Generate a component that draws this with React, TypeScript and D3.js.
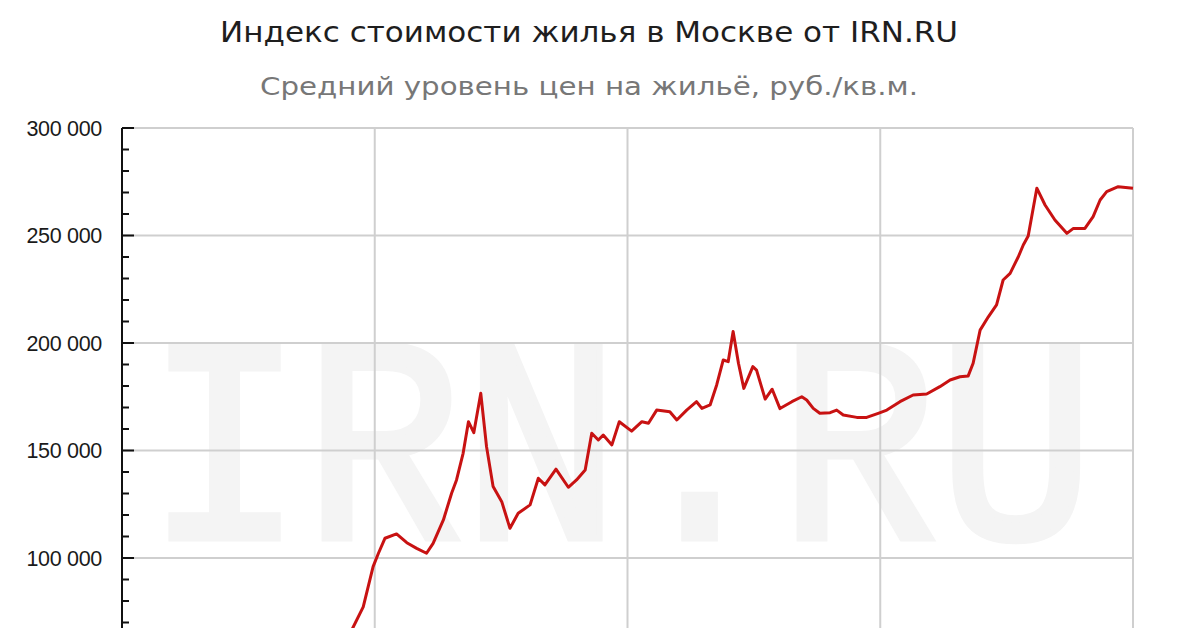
import React from "react";
import * as d3 from "d3";

const TITLE = "Индекс стоимости жилья в Москве от IRN.RU";
const SUBTITLE = "Средний уровень цен на жильё, руб./кв.м.";
const WATERMARK = "IRN.RU";

const years = [
  2005.06, 2005.63, 2005.87, 2006.11, 2006.24, 2006.4, 2006.68, 2006.93, 2007.17, 2007.41,
  2007.57, 2007.82, 2008.02, 2008.14, 2008.3, 2008.43, 2008.56, 2008.73, 2008.87, 2009.03,
  2009.24, 2009.44, 2009.64, 2009.93, 2010.13, 2010.29, 2010.56, 2010.86, 2011.06, 2011.27,
  2011.43, 2011.59, 2011.71, 2011.92, 2012.1, 2012.4, 2012.65, 2012.81, 2013.01, 2013.33,
  2013.5, 2013.74, 2013.98, 2014.11, 2014.31, 2014.47, 2014.63, 2014.75, 2014.87, 2015.0,
  2015.13, 2015.35, 2015.44, 2015.65, 2015.82, 2016.01, 2016.3, 2016.54, 2016.66, 2016.82,
  2016.98, 2017.23, 2017.39, 2017.55, 2017.88, 2018.12, 2018.4, 2018.61, 2018.93, 2019.25,
  2019.58, 2019.9, 2020.15, 2020.39, 2020.59, 2020.71, 2020.88, 2021.08, 2021.28, 2021.44,
  2021.61, 2021.81, 2021.93, 2022.05, 2022.26, 2022.46, 2022.7, 2022.99, 2023.15, 2023.43,
  2023.63, 2023.8, 2023.96, 2024.24, 2024.6,
];

const prices = [
  47000, 68000, 77300, 96000, 102200, 109200, 111200, 107100, 104500, 102200,
  106800, 117700, 130100, 136300, 148700, 163400, 158300, 176600, 151800, 133200,
  126200, 113800, 120800, 124700, 137100, 134000, 141300, 132900, 136300, 140900,
  158000, 154900, 157200, 152600, 163400, 159000, 163400, 162700, 168800, 168000,
  164200, 168800, 172700, 169600, 171200, 180500, 192100, 191300, 205300, 190600,
  178900, 189000, 187400, 173900, 178500, 169500, 172700, 175000, 173500, 169600,
  167300, 167600, 168800, 166500, 165400, 165400, 167300, 168800, 172700, 175800,
  176300, 179700, 182800, 184300, 184700, 190600, 206000, 212200, 217700, 229300,
  232400, 240100, 245600, 249800, 272000, 264200, 257200, 251000, 253300, 253300,
  258800, 266500, 270400, 272700, 272000,
];

const yTicks = [0, 50000, 100000, 150000, 200000, 250000, 300000];
const yMinorStep = 10000;
const xDomain = [2000, 2024.6];

export default function App() {
  const W = 1200;
  const H = 628;
  const left = 122;
  const right = 1133;
  const top = 128;
  const bottom = 773;

  const x = d3.scaleLinear().domain(xDomain).range([left, right]);
  const y = d3.scaleLinear().domain([0, 300000]).range([bottom, top]);

  const span = xDomain[1] - xDomain[0];
  const xGrid = d3.range(1, 5).map((i) => xDomain[0] + (i * span) / 4);
  const minor = d3.range(0, 300001, yMinorStep);

  const pts = years.map((yr, i) => [yr, prices[i]] as [number, number]);
  const line = d3
    .line<[number, number]>()
    .x((d) => x(d[0]))
    .y((d) => y(d[1]))
    .curve(d3.curveLinear);

  const fmt = (v: number) => d3.format(",")(v).replace(/,/g, " ");

  return (
    <div style={{ position: "absolute", left: 0, top: 0 }}>
      <svg width={W} height={H} style={{ display: "block", background: "#fff" }}>
        <text
          x={(left + right) / 2 - 7}
          y={538}
          fontFamily="'Liberation Mono', 'DejaVu Sans Mono', monospace"
          fontSize={292}
          textLength={950}
          lengthAdjust="spacingAndGlyphs"
          textAnchor="middle"
          fill="#f4f4f4"
          stroke="#f4f4f4"
          strokeWidth={7}
        >
          {WATERMARK}
        </text>

        {yTicks
          .filter((t) => t > 0)
          .map((t) => (
            <line key={"gy" + t} x1={left} x2={right} y1={y(t)} y2={y(t)} stroke="#cfcfcf" strokeWidth={2} />
          ))}
        {xGrid.map((g) => (
          <line key={"gx" + g} x1={x(g)} x2={x(g)} y1={top} y2={bottom} stroke="#cfcfcf" strokeWidth={2} />
        ))}

        <path d={line(pts) || ""} fill="none" stroke="#c81212" strokeWidth={3} strokeLinejoin="round" />

        <line x1={left} x2={left} y1={top} y2={bottom} stroke="#111" strokeWidth={2} />
        {minor.map((t) => {
          const major = t % 50000 === 0;
          return (
            <line
              key={"mt" + t}
              x1={left}
              x2={left + (major ? 12 : 7)}
              y1={y(t)}
              y2={y(t)}
              stroke="#111"
              strokeWidth={2}
            />
          );
        })}
        {yTicks
          .filter((t) => y(t) < H - 12)
          .map((t) => (
            <text
              key={"yl" + t}
              x={102}
              y={y(t)}
              dy="0.36em"
              textAnchor="end"
              fontFamily="'Liberation Sans', Arial, sans-serif"
              fontSize={21.5}
              letterSpacing={-0.3}
              fill="#1a1a1a"
            >
              {fmt(t)}
            </text>
          ))}

        <text
          x={589}
          y={42}
          textAnchor="middle"
          fontFamily="'DejaVu Sans', sans-serif"
          fontSize={29}
          textLength={738}
          lengthAdjust="spacingAndGlyphs"
          fill="#1e1e1e"
        >
          {TITLE}
        </text>
        <text
          x={589}
          y={95}
          textAnchor="middle"
          fontFamily="'DejaVu Sans', sans-serif"
          fontSize={25}
          textLength={658}
          lengthAdjust="spacingAndGlyphs"
          fill="#777"
        >
          {SUBTITLE}
        </text>
      </svg>
    </div>
  );
}
